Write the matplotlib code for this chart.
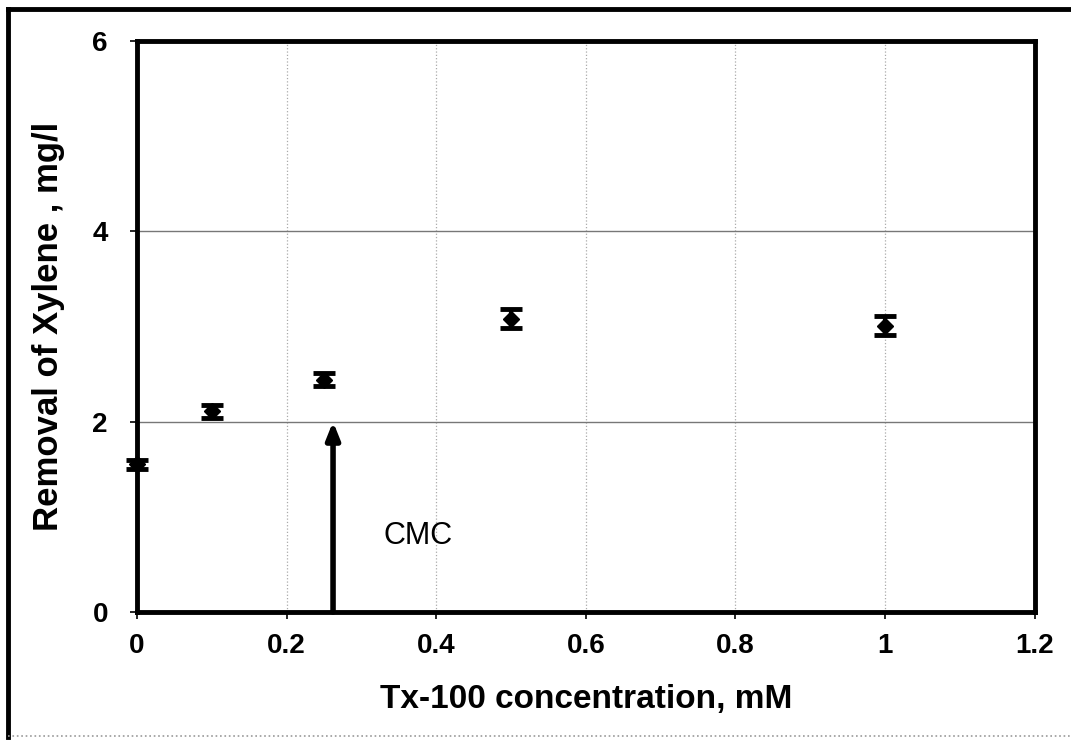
import matplotlib.pyplot as plt
from matplotlib.lines import Line2D

plt.rcParams['font.family'] = ['Liberation Sans', 'DejaVu Sans']

# data
conc = [0.0, 0.1, 0.25, 0.5, 1.0]
removal = [1.55, 2.11, 2.44, 3.08, 3.01]
err = [0.05, 0.07, 0.07, 0.10, 0.10]
x_ticks = [0, 0.2, 0.4, 0.6, 0.8, 1.0, 1.2]
x_labels = ['0', '0.2', '0.4', '0.6', '0.8', '1', '1.2']
y_ticks = [0, 2, 4, 6]
cmc = 0.262

fig = plt.figure(figsize=(10.71, 7.40), dpi=100)
ax = fig.add_axes([0.128, 0.173, 0.838, 0.7716])

ax.errorbar(conc, removal, yerr=err, fmt='D', color='black', markersize=8,
            capsize=8, capthick=3.5, elinewidth=3, zorder=5, clip_on=False)

ax.annotate('', xy=(cmc, 2.0), xytext=(cmc, 0.0),
            arrowprops=dict(arrowstyle='-|>,head_width=0.4,head_length=1.0',
                            color='black', lw=4, shrinkA=0, shrinkB=0))
ax.text(0.33, 0.8, 'CMC', fontsize=22, va='center', ha='left')

ax.set_xlim(0, 1.2)
ax.set_ylim(0, 6)
ax.set_xticks(x_ticks)
ax.set_xticklabels(x_labels)
ax.set_yticks(y_ticks)

# grid: dotted verticals, thin grey horizontals
for xv in x_ticks[1:-1]:
    ax.axvline(xv, color='#aaaaaa', lw=0.9, ls=':', zorder=0)
for yv in y_ticks[1:-1]:
    ax.axhline(yv, color='#777777', lw=1.0, zorder=0)

for s in ax.spines.values():
    s.set_linewidth(3.5)
    s.set_color('black')

ax.tick_params(axis='x', direction='out', length=5, width=1.2,
               labelsize=20, pad=10)
ax.tick_params(axis='y', direction='out', length=5, width=1.2,
               labelsize=20, pad=16)
for lab in ax.get_xticklabels() + ax.get_yticklabels():
    lab.set_fontweight('bold')

ax.set_xlabel('Tx-100 concentration, mM', fontsize=24, fontweight='bold', labelpad=18)
ax.set_ylabel('Removal of Xylene , mg/l', fontsize=25, fontweight='bold', labelpad=20)

# outer frame around the whole chart
fig.add_artist(Line2D([8 / 1071, 8 / 1071], [1 - 9 / 740, 1 - 737 / 740],
                      transform=fig.transFigure, color='black', lw=3.5))
fig.add_artist(Line2D([8 / 1071, 1.0], [1 - 9 / 740, 1 - 9 / 740],
                      transform=fig.transFigure, color='black', lw=3.5))
fig.add_artist(Line2D([8 / 1071, 1.0], [1 - 736 / 740, 1 - 736 / 740],
                      transform=fig.transFigure, color='#999999', lw=1.2, ls=':'))

fig.savefig('out.png', dpi=100)
